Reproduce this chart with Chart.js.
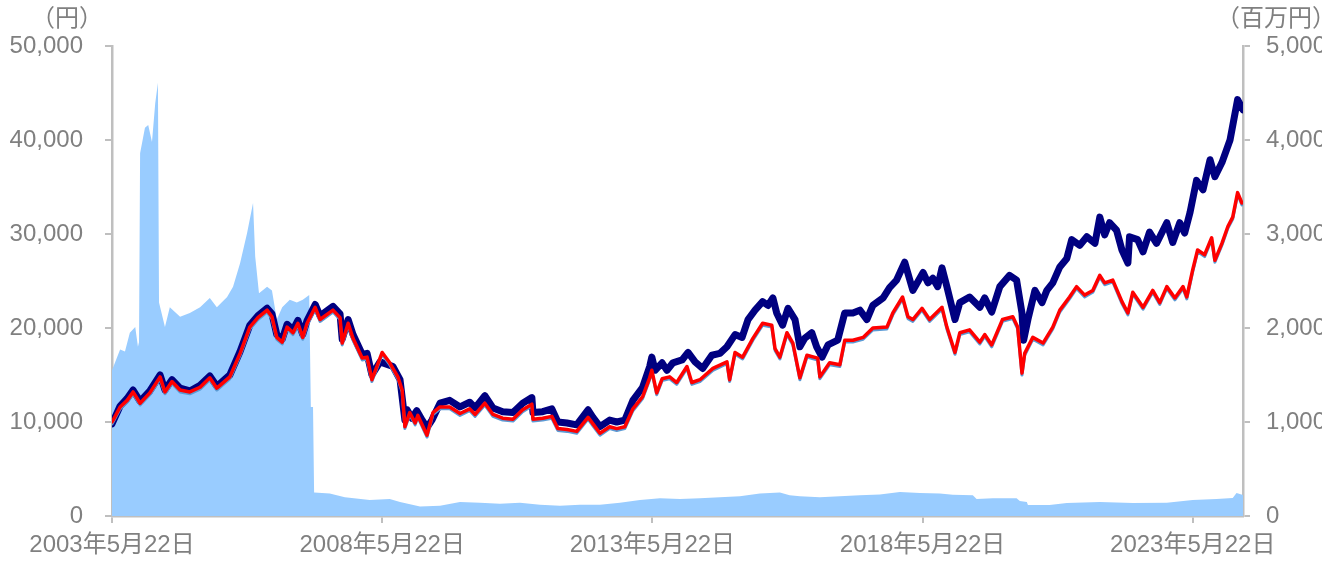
<!DOCTYPE html>
<html>
<head>
<meta charset="utf-8">
<script src="https://cdn.jsdelivr.net/npm/chart.js@4.4.1/dist/chart.umd.min.js"></script>
<style>
html,body{margin:0;padding:0;background:#fff;}
#wrap{position:relative;width:1322px;height:562px;overflow:hidden;}
#c{position:absolute;left:0;top:0;}
.unit{position:absolute;font-family:"Noto Sans CJK JP","Liberation Sans",sans-serif;font-size:24px;line-height:24px;color:#808080;top:4px;white-space:nowrap;}
</style>
</head>
<body>
<div id="wrap">
<canvas id="c" width="1322" height="562"></canvas>
<div class="unit" style="left:31px;">（円）</div>
<div class="unit" style="left:1216px;">（百万円）</div>
</div>
<script>
// x values are dates expressed as fractional years
const tickDates = [2003.39, 2008.39, 2013.39, 2018.39, 2023.39];
const tickLabels = ["2003年5月22日", "2008年5月22日", "2013年5月22日", "2018年5月22日", "2023年5月22日"];
const xMin = 2003.39;
const xMax = 2024.32;

// 基準価額（分配金再投資）: navy line
const navyDates = [
 2003.39,2003.54,2003.67,2003.78,2003.91,2004.09,2004.28,2004.37,2004.50,2004.65,
 2004.83,2005.02,2005.20,2005.33,2005.57,2005.76,2005.94,2006.09,2006.26,2006.35,
 2006.44,2006.54,2006.63,2006.74,2006.83,2006.92,2007.00,2007.15,2007.24,2007.48,
 2007.61,2007.65,2007.76,2007.85,2008.02,2008.11,2008.20,2008.35,2008.59,2008.72,
 2008.81,2008.85,2008.94,2009.03,2009.13,2009.22,2009.31,2009.46,2009.64,2009.83,
 2010.01,2010.11,2010.29,2010.44,2010.62,2010.81,2010.99,2011.16,2011.18,2011.36,
 2011.53,2011.64,2011.81,2011.99,2012.20,2012.29,2012.42,2012.60,2012.73,2012.88,
 2013.03,2013.21,2013.34,2013.38,2013.44,2013.57,2013.66,2013.77,2013.94,2014.05,
 2014.18,2014.32,2014.49,2014.64,2014.77,2014.92,2015.05,2015.16,2015.29,2015.43,
 2015.53,2015.62,2015.69,2015.80,2015.90,2016.03,2016.12,2016.21,2016.34,2016.43,
 2016.53,2016.64,2016.82,2016.95,2017.10,2017.23,2017.36,2017.47,2017.66,2017.78,
 2017.91,2018.06,2018.21,2018.40,2018.49,2018.58,2018.67,2018.75,2018.84,2018.99,
 2019.08,2019.26,2019.45,2019.54,2019.67,2019.82,2020.00,2020.13,2020.23,2020.26,
 2020.34,2020.47,2020.60,2020.69,2020.80,2020.93,2021.06,2021.15,2021.30,2021.43,
 2021.58,2021.67,2021.76,2021.85,2021.98,2022.08,2022.19,2022.22,2022.37,2022.47,
 2022.59,2022.72,2022.91,2023.02,2023.15,2023.24,2023.34,2023.46,2023.58,2023.71,
 2023.80,2023.93,2024.08,2024.22,2024.32
];
const navyValues = [
 9800,11700,12500,13400,12200,13300,15000,13400,14500,13600,
 13300,13900,14900,13800,15000,17500,20300,21300,22100,21500,
 19300,18800,20400,19800,20800,19300,20800,22500,21300,22300,
 21500,18800,20900,19300,17200,17300,15000,16400,15900,14500,
 10200,11300,10400,11200,10200,9400,10200,12000,12300,11600,
 12100,11500,12800,11500,11100,11000,12000,12600,11000,11100,
 11400,10000,9900,9700,11300,10500,9500,10200,10000,10200,
 12300,13700,15900,16900,15500,16300,15500,16300,16600,17400,
 16400,15700,17100,17300,18000,19300,19000,20900,21900,22800,
 22400,23200,21600,20300,22100,20900,18000,18900,19500,18000,
 16900,18200,18700,21600,21600,21900,20900,22400,23200,24300,
 25100,27000,24000,25900,24800,25300,24400,26400,24400,20900,
 22700,23300,22200,23200,21700,24400,25600,25100,21600,18700,
 20900,24000,22700,24000,24800,26500,27400,29400,28800,29700,
 29000,31800,29900,31200,30400,28300,26900,29700,29400,28100,
 30200,29000,31200,29100,31200,30100,32300,35700,34700,37900,
 36100,37600,40000,44300,43200
];

// 基準価額: red line, and 参考指数: light blue line (same dates)
const redDates = [
 2003.39,2003.41,2003.54,2003.67,2003.78,2003.91,2004.09,2004.28,2004.37,2004.50,
 2004.65,2004.83,2005.02,2005.20,2005.33,2005.57,2005.76,2005.94,2006.09,2006.26,
 2006.35,2006.44,2006.54,2006.63,2006.74,2006.83,2006.92,2007.00,2007.15,2007.24,
 2007.48,2007.61,2007.65,2007.76,2007.85,2008.02,2008.11,2008.20,2008.39,2008.53,
 2008.68,2008.76,2008.81,2008.90,2009.00,2009.05,2009.22,2009.33,2009.46,2009.64,
 2009.83,2010.01,2010.11,2010.29,2010.44,2010.62,2010.81,2010.99,2011.16,2011.18,
 2011.36,2011.53,2011.64,2011.81,2011.99,2012.20,2012.29,2012.42,2012.60,2012.73,
 2012.88,2013.03,2013.21,2013.34,2013.38,2013.47,2013.57,2013.71,2013.84,2014.03,
 2014.12,2014.27,2014.51,2014.77,2014.82,2014.92,2015.06,2015.25,2015.43,2015.60,
 2015.66,2015.75,2015.88,2015.99,2016.12,2016.25,2016.45,2016.49,2016.67,2016.86,
 2016.95,2017.10,2017.29,2017.47,2017.73,2017.84,2018.02,2018.12,2018.21,2018.38,
 2018.52,2018.75,2018.84,2018.99,2019.08,2019.26,2019.45,2019.54,2019.67,2019.87,
 2020.06,2020.15,2020.23,2020.28,2020.43,2020.62,2020.80,2020.93,2021.11,2021.24,
 2021.39,2021.54,2021.67,2021.76,2021.91,2022.08,2022.19,2022.28,2022.47,2022.65,
 2022.78,2022.91,2023.06,2023.21,2023.28,2023.39,2023.48,2023.61,2023.74,2023.80,
 2023.93,2024.04,2024.13,2024.22,2024.30
];
const redValues = [
 10000,10200,11600,12300,13200,12000,13100,14800,13200,14300,
 13400,13200,13700,14700,13600,14800,17300,20100,21100,21900,
 21200,19000,18500,20100,19500,20500,19000,20500,22200,20900,
 21900,21100,18400,20500,18900,16800,16900,14500,17400,16300,
 14800,13400,9500,11000,9900,10700,8600,11000,11600,11600,
 10900,11400,10800,12000,10800,10400,10300,11300,11900,10300,
 10400,10600,9300,9200,9000,10500,9800,8800,9500,9300,
 9500,11400,12700,14700,15500,13100,14600,14800,14200,15900,
 14200,14500,15700,16400,14500,17400,16900,18900,20500,20300,
 17800,16900,19500,18400,14700,17100,16800,14800,16300,16100,
 18700,18700,19000,20000,20100,21600,23300,21200,20900,22100,
 20900,22200,20100,17400,19500,19800,18500,19300,18200,20900,
 21200,20100,15200,17300,19000,18400,20100,21900,23300,24400,
 23500,24000,25600,24800,25100,22800,21600,23800,22200,24000,
 22700,24400,23200,24400,23300,26200,28300,27800,29600,27200,
 29000,30800,31800,34400,33300
];
const blueValues = [
 9800,10000,11400,12100,13000,11800,12900,14600,13000,14100,
 13200,13000,13500,14500,13400,14600,17100,19900,20900,21700,
 21000,18800,18300,19900,19300,20300,18800,20300,22000,20700,
 21700,20900,18200,20300,18700,16600,16700,14300,17200,16100,
 14600,13200,9300,10800,9700,10500,8400,10800,11400,11400,
 10700,11200,10600,11800,10600,10200,10100,11100,11700,10100,
 10200,10400,9100,9000,8800,10300,9600,8600,9300,9100,
 9300,11200,12500,14500,15300,12900,14400,14600,14000,15700,
 14000,14300,15500,16200,14300,17200,16700,18700,20300,20100,
 17600,16700,19300,18200,14500,16900,16600,14600,16100,15900,
 18500,18500,18800,19800,19900,21400,23100,21000,20700,21900,
 20700,22000,19900,17200,19300,19600,18300,19100,18000,20700,
 21000,19900,15000,17100,18800,18200,19900,21700,23100,24200,
 23300,23800,25400,24600,24900,22600,21400,23600,22000,23800,
 22500,24200,23000,24200,23100,26000,28100,27600,29400,27000,
 28800,30600,31600,34200,33100
];

// 純資産総額（百万円）: light blue area, right axis
const areaDates = [
 2003.39,2003.54,2003.63,2003.72,2003.82,2003.87,2003.89,2003.91,2004.00,2004.06,
 2004.13,2004.19,2004.24,2004.26,2004.37,2004.46,2004.65,2004.83,2005.02,2005.20,
 2005.33,2005.52,2005.63,2005.76,2005.89,2006.00,2006.04,2006.11,2006.26,2006.35,
 2006.44,2006.54,2006.68,2006.81,2006.92,2007.04,2007.07,2007.11,2007.13,2007.42,
 2007.70,2008.16,2008.53,2008.72,2009.09,2009.46,2009.83,2010.20,2010.57,2010.94,
 2011.31,2011.68,2012.05,2012.42,2012.79,2013.16,2013.53,2013.90,2014.27,2014.64,
 2015.01,2015.38,2015.75,2015.93,2016.12,2016.49,2016.86,2017.23,2017.60,2017.97,
 2018.34,2018.71,2018.95,2019.32,2019.39,2019.69,2020.13,2020.19,2020.32,2020.34,
 2020.74,2021.06,2021.67,2022.28,2022.91,2023.39,2023.83,2024.13,2024.20,2024.32
];
const areaValues = [
 1550,1770,1750,1950,2010,1800,1850,3860,4130,4160,
 3980,4390,4610,2270,2010,2220,2120,2160,2220,2320,
 2220,2330,2440,2690,3010,3330,2760,2370,2440,2400,
 2090,2220,2300,2270,2300,2350,1160,1160,250,240,
 200,170,180,150,100,110,150,140,130,140,
 120,110,120,120,140,170,190,180,190,200,
 210,240,250,220,210,200,210,220,230,255,
 245,240,225,220,180,190,190,160,150,117,
 117,138,149,138,140,170,181,191,245,223
];

const pts = (xs, ys) => xs.map((x, i) => ({x: x, y: ys[i]}));

const GREY = '#808080';
const AXIS = '#bfbfbf';
const FONT = {family: '"Liberation Sans", "Noto Sans CJK JP", sans-serif', size: 24};

new Chart(document.getElementById('c'), {
  type: 'line',
  data: {
    datasets: [
      {data: pts(redDates, redValues), borderColor: '#ff0000', borderWidth: 3.5, yAxisID: 'y', order: 1},
      {data: pts(redDates, blueValues), borderColor: '#5b9bd5', borderWidth: 3, yAxisID: 'y', order: 2},
      {data: pts(navyDates, navyValues), borderColor: '#000080', borderWidth: 7, yAxisID: 'y', order: 3},
      {data: pts(areaDates, areaValues), borderWidth: 0, borderColor: 'rgba(0,0,0,0)', backgroundColor: '#99ccff', fill: 'origin', yAxisID: 'y2', order: 4}
    ]
  },
  options: {
    responsive: false,
    animation: false,
    devicePixelRatio: 1,
    elements: {
      point: {radius: 0, hoverRadius: 0},
      line: {tension: 0, borderJoinStyle: 'round', borderCapStyle: 'round'}
    },
    layout: {padding: {top: 46, bottom: 0, left: 0, right: 0}},
    plugins: {legend: {display: false}, tooltip: {enabled: false}},
    scales: {
      x: {
        type: 'linear',
        min: xMin,
        max: xMax,
        afterBuildTicks: (s) => { s.ticks = tickDates.map(v => ({value: v})); },
        afterFit: (s) => { s.height = 46; },
        ticks: {
          autoSkip: false,
          maxRotation: 0,
          color: GREY,
          font: FONT,
          padding: 8,
          callback: (v, i) => tickLabels[i]
        },
        grid: {display: true, drawOnChartArea: false, drawTicks: true, tickLength: 7, color: AXIS, lineWidth: 2},
        border: {display: true, color: AXIS, width: 2.5}
      },
      y: {
        position: 'left',
        min: 0,
        max: 50000,
        afterFit: (s) => { s.width = 112; },
        ticks: {
          stepSize: 10000,
          color: GREY,
          font: FONT,
          padding: 22,
          callback: (v) => v.toLocaleString('en-US')
        },
        grid: {display: true, drawOnChartArea: false, drawTicks: true, tickLength: 7, color: AXIS, lineWidth: 2},
        border: {display: true, color: AXIS, width: 2.5}
      },
      y2: {
        position: 'right',
        min: 0,
        max: 5000,
        afterFit: (s) => { s.width = 79; },
        ticks: {
          stepSize: 1000,
          color: GREY,
          font: FONT,
          padding: 16,
          callback: (v) => v.toLocaleString('en-US')
        },
        grid: {display: true, drawOnChartArea: false, drawTicks: true, tickLength: 7, color: AXIS, lineWidth: 2},
        border: {display: true, color: AXIS, width: 2.5}
      }
    }
  }
});
</script>
</body>
</html>
